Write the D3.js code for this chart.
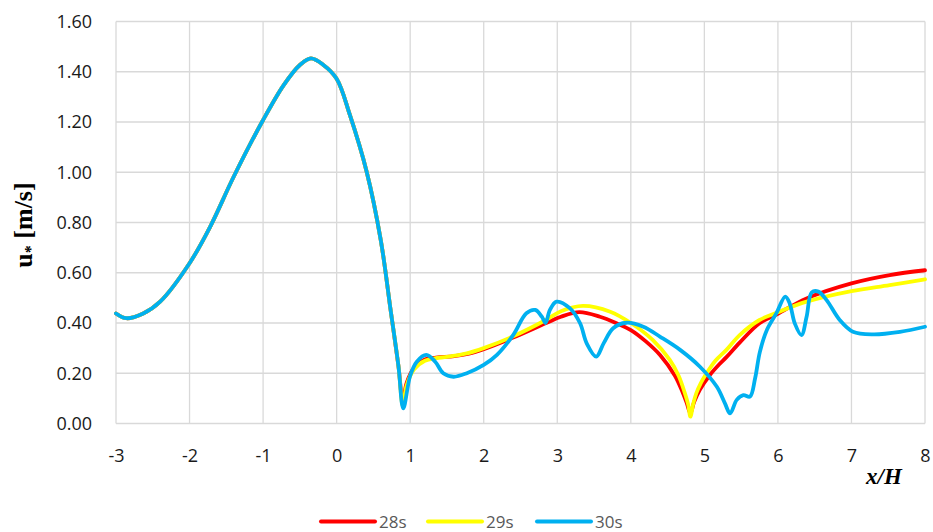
<!DOCTYPE html>
<html>
<head>
<meta charset="utf-8">
<script src="https://cdn.jsdelivr.net/npm/d3@7"></script>
<style>
  html, body { margin: 0; padding: 0; background: #fff; }
  svg { display: block; }
  .tick text { font-family: "Open Sans", sans-serif; font-size: 18px; fill: #1a1a1a; }
</style>
</head>
<body>
<svg id="chart" width="933" height="532"></svg>
<script>
// Friction velocity u* along the profile x/H at three time instants

const xTicks = [-3, -2, -1, 0, 1, 2, 3, 4, 5, 6, 7, 8];
const yTicks = [0, 0.2, 0.4, 0.6, 0.8, 1.0, 1.2, 1.4, 1.6];
const seriesNames = ["28s", "29s", "30s"];

// shared upstream section (identical for all instants)
const xUp = [-3, -2.86, -2.63, -2.40, -2.0, -1.72, -1.40, -1.0, -0.72, -0.50, -0.35, -0.18, 0.0, 0.18, 0.41, 0.60, 0.73, 0.84];
const uUp = [0.438, 0.419, 0.438, 0.485, 0.638, 0.783, 0.982, 1.208, 1.347, 1.427, 1.453, 1.427, 1.372, 1.228, 1.0, 0.73, 0.46, 0.23];

// 28s
const x28 = [0.90, 0.95, 1.05, 1.2, 1.35, 1.6, 1.8, 2.0, 2.4, 2.85, 3.05, 3.3, 3.58, 3.8, 4.0, 4.2, 4.4, 4.6, 4.7, 4.76, 4.81, 4.86, 4.94, 5.08, 5.2, 5.3, 5.48, 5.75, 6.0, 6.39, 7.0, 7.52, 8.0];
const u28 = [0.09, 0.16, 0.22, 0.255, 0.262, 0.268, 0.278, 0.296, 0.342, 0.40, 0.425, 0.443, 0.425, 0.40, 0.372, 0.328, 0.272, 0.19, 0.127, 0.082, 0.04, 0.085, 0.135, 0.195, 0.235, 0.264, 0.322, 0.399, 0.437, 0.498, 0.558, 0.591, 0.61];

// 29s
const x29 = [0.90, 0.95, 1.05, 1.2, 1.35, 1.5, 1.77, 2.0, 2.4, 2.85, 3.05, 3.35, 3.72, 4.0, 4.3, 4.53, 4.65, 4.73, 4.78, 4.81, 4.85, 4.89, 4.95, 5.03, 5.15, 5.3, 5.48, 5.75, 6.0, 6.39, 7.0, 7.52, 8.0];
const u29 = [0.07, 0.15, 0.215, 0.25, 0.26, 0.265, 0.279, 0.30, 0.347, 0.413, 0.447, 0.468, 0.445, 0.40, 0.332, 0.253, 0.19, 0.125, 0.075, 0.027, 0.08, 0.12, 0.16, 0.2, 0.25, 0.293, 0.352, 0.412, 0.443, 0.485, 0.527, 0.551, 0.574];

// 30s
const x30 = [0.906, 1.0, 1.09, 1.22, 1.34, 1.45, 1.59, 1.77, 2.0, 2.18, 2.4, 2.58, 2.70, 2.79, 2.84, 2.90, 2.99, 3.17, 3.31, 3.40, 3.53, 3.63, 3.76, 3.94, 4.17, 4.40, 4.67, 4.94, 5.17, 5.28, 5.35, 5.44, 5.53, 5.62, 5.69, 5.755, 5.85, 5.98, 6.10, 6.16, 6.23, 6.32, 6.39, 6.46, 6.55, 6.66, 6.84, 7.02, 7.30, 7.66, 8.0];
const u30 = [0.06, 0.19, 0.246, 0.273, 0.246, 0.2, 0.186, 0.2, 0.233, 0.273, 0.352, 0.439, 0.452, 0.425, 0.40, 0.452, 0.485, 0.459, 0.399, 0.319, 0.266, 0.319, 0.379, 0.401, 0.385, 0.345, 0.293, 0.226, 0.146, 0.08, 0.04, 0.094, 0.113, 0.107, 0.18, 0.285, 0.372, 0.439, 0.505, 0.478, 0.398, 0.352, 0.425, 0.522, 0.525, 0.492, 0.412, 0.365, 0.355, 0.365, 0.385];

const colors = ["#FF0000", "#FFFF00", "#00B0F0"];

function joinSeries(xs, us) {
  return xUp.map((x, i) => [x, uUp[i]]).concat(xs.map((x, i) => [x, us[i]]));
}
const series = [joinSeries(x28, u28), joinSeries(x29, u29), joinSeries(x30, u30)];

const margin = { left: 116, right: 8, top: 21.5, bottom: 108.5 };
const W = 933, H = 532;
const svg = d3.select("#chart");

const x = d3.scaleLinear().domain([-3, 8]).range([margin.left, W - margin.right]);
const y = d3.scaleLinear().domain([0, 1.6]).range([H - margin.bottom, margin.top]);

// grid
const grid = svg.append("g").attr("stroke", "#D9D9D9").attr("stroke-width", 1.3);
grid.selectAll("line.v").data(xTicks).join("line")
  .attr("x1", d => x(d)).attr("x2", d => x(d))
  .attr("y1", y(0)).attr("y2", y(1.6));
grid.selectAll("line.h").data(yTicks).join("line")
  .attr("x1", x(-3)).attr("x2", x(8))
  .attr("y1", d => y(d)).attr("y2", d => y(d));

// axes (labels only)
const gx = svg.append("g").attr("transform", `translate(0,${y(0)})`)
  .call(d3.axisBottom(x).tickValues(xTicks).tickSize(0).tickPadding(26).tickFormat(d => String(d)));
gx.select(".domain").remove();

const gy = svg.append("g").attr("transform", `translate(${x(-3)},0)`)
  .call(d3.axisLeft(y).tickValues(yTicks).tickSize(0).tickPadding(24).tickFormat(d3.format(".2f")));
gy.select(".domain").remove();

// lines
const line = d3.line()
  .x(d => x(d[0]))
  .y(d => y(d[1]))
  .curve(d3.curveCatmullRom.alpha(0.5));

svg.append("g").selectAll("path").data(series).join("path")
  .attr("d", line)
  .attr("fill", "none")
  .attr("stroke", (d, i) => colors[i])
  .attr("stroke-width", 3.8)
  .attr("stroke-linejoin", "round")
  .attr("stroke-linecap", "round");

// axis titles
const yTitle = svg.append("text")
  .attr("transform", "translate(32,225) rotate(-90)")
  .attr("text-anchor", "middle")
  .attr("font-family", "'Liberation Serif', 'Times New Roman', serif")
  .attr("font-weight", "bold")
  .attr("font-size", 26)
  .attr("fill", "#000");
yTitle.append("tspan").text("u");
yTitle.append("tspan").attr("font-size", 16).attr("dy", 4).text("*");
yTitle.append("tspan").attr("dy", -4).text(" [m/s]");

svg.append("text")
  .attr("x", 884).attr("y", 484)
  .attr("text-anchor", "middle")
  .attr("font-family", "'Liberation Serif', 'Times New Roman', serif")
  .attr("font-weight", "bold")
  .attr("font-style", "italic")
  .attr("font-size", 23)
  .attr("fill", "#000")
  .text("x/H");

// legend
const legendX = [321, 428, 537];
const lg = svg.append("g").selectAll("g").data(seriesNames).join("g")
  .attr("transform", (d, i) => `translate(${legendX[i]},521.5)`);
lg.append("line")
  .attr("x1", 0).attr("x2", 54).attr("y1", 0).attr("y2", 0)
  .attr("stroke", (d, i) => colors[i])
  .attr("stroke-width", 4)
  .attr("stroke-linecap", "round");
lg.append("text")
  .attr("x", 58).attr("y", 6.5)
  .attr("font-family", "'Open Sans', sans-serif")
  .attr("font-size", 17)
  .attr("fill", "#595959")
  .text(d => d);
</script>
</body>
</html>
